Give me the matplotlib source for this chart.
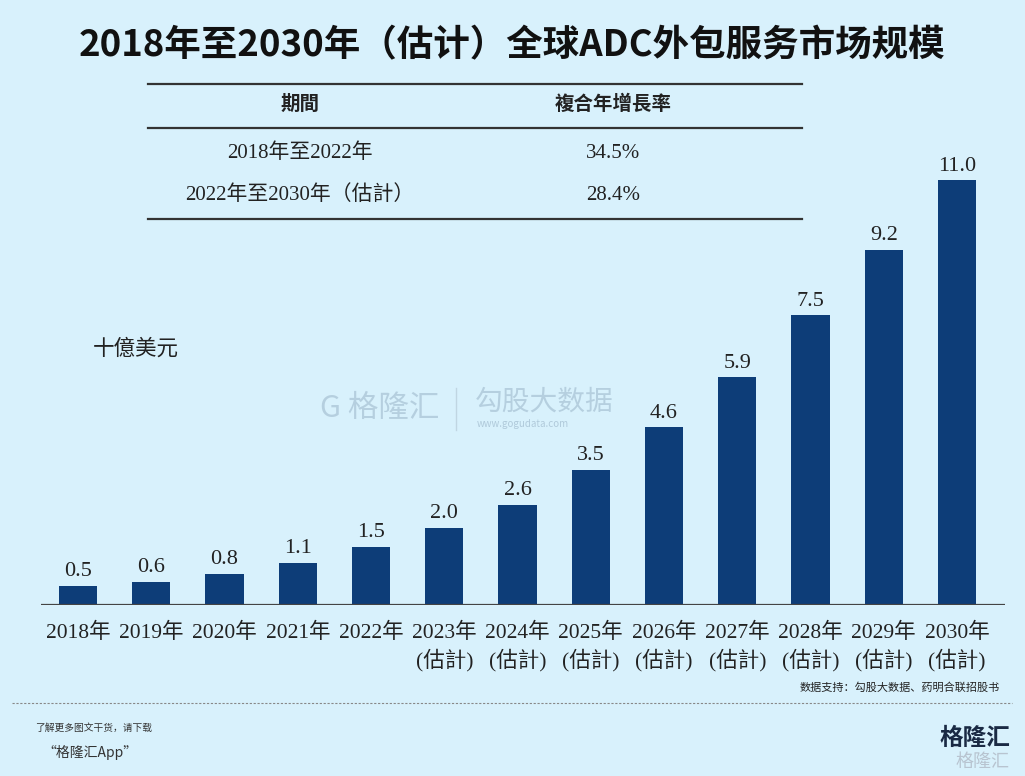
import matplotlib.pyplot as plt
import numpy as np

plt.rcParams['font.family'] = ['Noto Sans CJK SC', 'DejaVu Sans']

# data
years = ['2018年', '2019年', '2020年', '2021年', '2022年', '2023年\n(估計)', '2024年\n(估計)',
         '2025年\n(估計)', '2026年\n(估計)', '2027年\n(估計)', '2028年\n(估計)', '2029年\n(估計)',
         '2030年\n(估計)']
values = [0.5, 0.6, 0.8, 1.1, 1.5, 2.0, 2.6, 3.5, 4.6, 5.9, 7.5, 9.2, 11.0]
periods = ['2018年至2022年', '2022年至2030年（估計）']
cagr = ['34.5%', '28.4%']

bg = '#d8f1fc'
navy = '#0d3d78'
serif = ['Liberation Serif', 'Noto Sans CJK TC']

fig = plt.figure(figsize=(10.25, 7.76), dpi=100, facecolor=bg)

# overlay in pixel coords for texts and table rules
ov = fig.add_axes([0, 0, 1, 1])
ov.set_xlim(0, 1025)
ov.set_ylim(776, 0)
ov.axis('off')

ax = fig.add_axes([0.0404, 0.2204, 0.9401, 0.597])
ax.set_facecolor('none')
x = np.arange(len(values))
bars = ax.bar(x, values, width=0.52, color=navy, zorder=2)
for xi, v in zip(x, values):
    ax.text(xi, v + 0.12, f'{v:.1f}', ha='center', va='bottom', fontsize=16,
            family=serif, color='#222222')
ax.set_xlim(-0.5, 12.655)
ax.set_ylim(0, 12)
for s in ['top', 'right', 'left', 'bottom']:
    ax.spines[s].set_visible(False)
ax.axhline(0, xmin=0, xmax=1, color='#444444', lw=1.6, zorder=3)
ax.set_yticks([])
ax.set_xticks(x)
ax.set_xticklabels(years, family=serif, fontsize=15.5, color='#222222', linespacing=1.3)
ax.tick_params(axis='x', length=0, pad=13)

# title
ov.text(512, 46, '2018年至2030年（估计）全球ADC外包服务市场规模', ha='center', va='center',
        fontsize=26.3, fontweight='bold', color='#111111')

# CAGR table
for yy in [84, 128, 219]:
    ov.plot([148, 802], [yy, yy], color='#333333', lw=1.6)
ov.text(300, 104, '期間', ha='center', va='center', fontsize=14, fontweight='bold', color='#222222')
ov.text(613, 104, '複合年增長率', ha='center', va='center', fontsize=14, fontweight='bold', color='#222222')
for yy, p, c in zip([153, 195], periods, cagr):
    ov.text(300, yy, p, ha='center', va='center', fontsize=15, family=serif, color='#222222')
    ov.text(613, yy, c, ha='center', va='center', fontsize=15, family=serif, color='#222222')

# unit
ov.text(93, 349, '十億美元', ha='left', va='center', fontsize=15.5, color='#222222')

# watermark
ov.text(320, 408, 'G 格隆汇', ha='left', va='center', fontsize=22, color='#9fb9cc', alpha=0.6)
ov.plot([456, 456], [388, 430], color='#b0c4d2', lw=1, alpha=0.6)
ov.text(475, 402, '勾股大数据', ha='left', va='center', fontsize=20, color='#9fb9cc', alpha=0.6)
ov.text(477, 424, 'www.gogudata.com', ha='left', va='center', fontsize=7, color='#9fb9cc', alpha=0.7)

# source and footer
ov.text(1000, 688, '数据支持：勾股大数据、药明合联招股书', ha='right', va='center', fontsize=8, color='#222222')
ov.plot([12, 1012], [703, 703], color='#888888', lw=0.8, ls=(0, (2, 1.5)))
ov.text(35, 728, '了解更多图文干货，请下载', ha='left', va='center', fontsize=7, style='italic', color='#333333')
ov.text(42, 752, '“格隆汇App”', ha='left', va='center', fontsize=10, style='italic', color='#333333')
ov.text(1010, 738, '格隆汇', ha='right', va='center', fontsize=17, fontweight='bold', color='#1a2a44')
ov.text(1010, 762, '格隆汇', ha='right', va='center', fontsize=13, color='#b8c4d0')

fig.savefig('out.png', dpi=100, facecolor=bg)
